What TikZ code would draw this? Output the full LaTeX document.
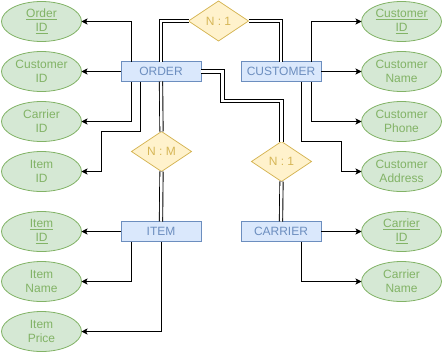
\documentclass[tikz,border=0pt]{standalone}
\usepackage{fontspec}
\setmainfont{Liberation Sans}
\usetikzlibrary{arrows.meta,positioning,shapes.geometric}
\definecolor{AttrFill}{HTML}{D5E8D4}
\definecolor{AttrLine}{HTML}{82B366}
\definecolor{EntFill}{HTML}{DAE8FC}
\definecolor{EntLine}{HTML}{6C8EBF}
\definecolor{RelFill}{HTML}{FFF2CC}
\definecolor{RelLine}{HTML}{D6B656}
\tikzset{
  attr/.style ={ellipse, draw=AttrLine, line width=.8pt, fill=AttrFill, text=AttrLine,
                minimum width=80pt, minimum height=40pt, inner sep=0pt, outer sep=0pt,
                align=center, font=\fontsize{12}{14}\selectfont},
  ent/.style  ={rectangle, draw=EntLine, line width=.8pt, fill=EntFill, text=EntLine,
                minimum width=80pt, minimum height=20pt, inner sep=0pt, outer sep=0pt,
                font=\fontsize{12}{14}\selectfont},
  rel/.style  ={diamond, draw=RelLine, line width=.8pt, fill=RelFill, text=RelLine,
                minimum width=60pt, minimum height=40pt, inner sep=0pt, outer sep=0pt,
                font=\fontsize{12}{14}\selectfont},
  arr/.style  ={-{Stealth[length=6pt,width=6pt,inset=1.5pt]}, line width=.9pt},
  link/.style ={double, double distance=2.4pt, line width=.9pt},
}

\begin{document}
\begin{tikzpicture}[x=1pt,y=-1pt,node distance=10pt]
  \useasboundingbox (0,0) rectangle (443,353);

  % entities
  \node[ent] (order)    at (161,71.5)  {ORDER};
  \node[ent] (customer) at (281,71.5)  {CUSTOMER};
  \node[ent] (item)     at (161,231.5) {ITEM};
  \node[ent] (carrier)  at (281,231.5) {CARRIER};

  % relationships
  \node[rel] (rel1) at (218.5,21)   {N : 1};
  \node[rel] (relm) at (161.5,151.5) {N : M};
  \node[rel] (rel2) at (281.5,161.5) {N : 1};

  % attributes, left column
  \node[attr] (oid) at (41.5,21.5) {\underline{Order}\\\underline{ID}};
  \node[attr,below=of oid]  (ocid) {Customer\\ID};
  \node[attr,below=of ocid] (ocar) {Carrier\\ID};
  \node[attr,below=of ocar] (oiid) {Item\\ID};
  \node[attr,below=20pt of oiid] (iid) {\underline{Item}\\\underline{ID}};
  \node[attr,below=of iid]   (iname)  {Item\\Name};
  \node[attr,below=of iname] (iprice) {Item\\Price};

  % attributes, right column
  \node[attr] (cid) at (401.5,21.5) {\underline{Customer}\\\underline{ID}};
  \node[attr,below=of cid]   (cname)  {Customer\\Name};
  \node[attr,below=of cname] (cphone) {Customer\\Phone};
  \node[attr,below=of cphone] (caddr) {Customer\\Address};
  \node[attr,below=20pt of caddr] (rid) {\underline{Carrier}\\\underline{ID}};
  \node[attr,below=of rid] (rname) {Carrier\\Name};

  % order attributes
  \draw[arr] ([xshift=-29.5pt]order.north) |- (oid.east);
  \draw[arr] (order.west) -- (ocid.east);
  \draw[arr] ([xshift=-29.5pt]order.south) |- (ocar.east);
  \draw[arr] ([xshift=-21pt]order.south) -- ++(0,49.5) -| ([xshift=20pt]oiid.east) -- (oiid.east);

  % customer attributes
  \draw[arr] ([xshift=30.5pt]customer.north) |- (cid.west);
  \draw[arr] (customer.east) -- (cname.west);
  \draw[arr] ([xshift=30.5pt]customer.south) |- (cphone.west);
  \draw[arr] ([xshift=20.5pt]customer.south) -- ++(0,59.5) -| ([xshift=-20pt]caddr.west) -- (caddr.west);

  % item and carrier attributes
  \draw[arr] (item.west) -- (iid.east);
  \draw[arr] ([xshift=-29.5pt]item.south) |- (iname.east);
  \draw[arr] ([xshift=.5pt]item.south) |- (iprice.east);
  \draw[arr] (carrier.east) -- (rid.west);
  \draw[arr] ([xshift=20.5pt]carrier.south) |- (rname.west);

  % relationship links
  \draw[link] (order.north) |- (rel1.west);
  \draw[link] (rel1.east) -| (customer.north);
  \draw[link] (order.south) -- (relm.north);
  \draw[link] (relm.south) -- (item.north);
  \draw[link] (order.east) -- ++(21.5,0) -- ++(0,29.5) -| (rel2.north);
  \draw[link] (rel2.south) -- (carrier.north);
\end{tikzpicture}
\end{document}
